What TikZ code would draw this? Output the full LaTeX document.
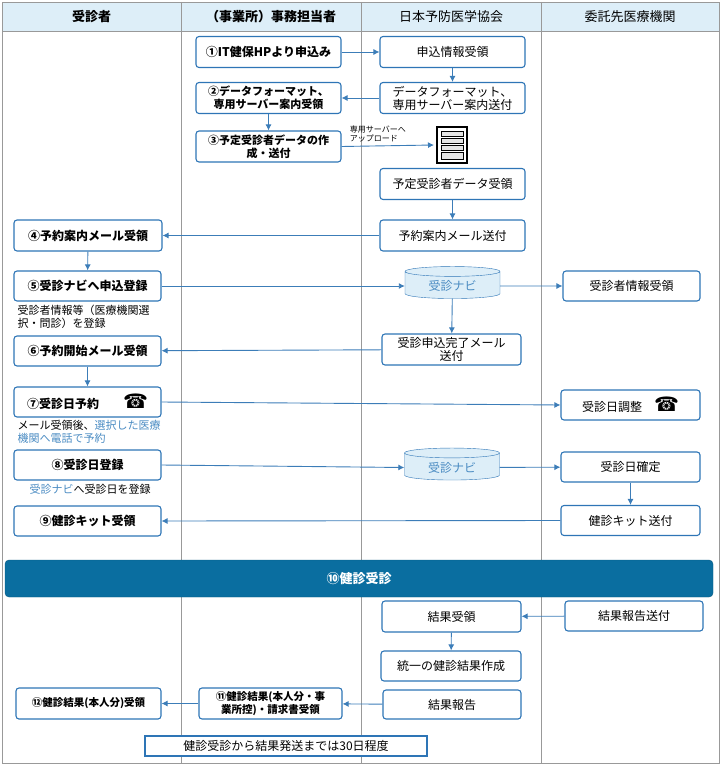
\documentclass[tikz,border=0pt]{standalone}
\usepackage{fontspec}
\setmainfont{Noto Sans CJK JP}
\newfontfamily\symfont{DejaVu Sans}
\usetikzlibrary{shapes.geometric,arrows.meta}
\definecolor{boxblue}{HTML}{2E75B6}
\definecolor{linkblue}{HTML}{3C7DB8}
\definecolor{headfill}{HTML}{DDEEF8}
\definecolor{bandblue}{HTML}{0A6EA0}
\definecolor{navtext}{HTML}{4A8BC2}
\tikzset{
  stage/.style={draw=boxblue, line width=1.1pt, rounded corners=3pt, fill=white,
    minimum height=31pt, align=center, font=\fontsize{12}{13}\selectfont\bfseries},
  task/.style={stage, font=\fontsize{12}{14}\selectfont},
  navi/.style={cylinder, shape border rotate=90, aspect=0.18, draw=boxblue, fill=headfill,
    minimum width=95pt, minimum height=32pt, text=navtext, font=\fontsize{12}{12}\selectfont},
  flow/.style={-{Latex[length=6pt,width=6pt]}, linkblue, line width=0.9pt},
  lane/.style={gray!80, line width=0.8pt},
  memo/.style={anchor=north west, align=left, font=\fontsize{11}{13}\selectfont}
}
\newcommand{\phone}{{\symfont\fontsize{20}{18}\selectfont ☎}}
\begin{document}
\begin{tikzpicture}[x=1pt, y=-1pt]
  \useasboundingbox (0,0) rectangle (721,765);
  % lanes
  \fill[headfill] (2,2) rectangle (719,31);
  \foreach \x in {181,361,541} {
    \draw[lane] (\x,2) -- (\x,763);
  }
  \draw[lane] (2,2) rectangle (719,763);
  \draw[lane] (2,31) -- (719,31);
  \node[font=\fontsize{13}{13}\selectfont\bfseries] at (91.5,17) {受診者};
  \node[font=\fontsize{13}{13}\selectfont\bfseries] at (271,17) {（事業所）事務担当者};
  \node[font=\fontsize{13}{13}\selectfont] at (451,17) {日本予防医学協会};
  \node[font=\fontsize{13}{13}\selectfont] at (630,17) {委託先医療機関};

  % steps
  \node[stage, minimum width=145pt] (n1) at (268.5,52) {①IT健保HPより申込み};
  \node[task, minimum width=145pt] (r1) at (452.5,52) {申込情報受領};
  \node[stage, minimum width=145pt, font=\fontsize{11}{13}\selectfont\bfseries] (n2) at (268.5,98) {②データフォーマット、\\専用サーバー案内受領};
  \node[task, minimum width=145pt, font=\fontsize{12}{13}\selectfont] (r2) at (452.5,98) {データフォーマット、\\専用サーバー案内送付};
  \node[stage, minimum width=145pt, font=\fontsize{11}{13}\selectfont\bfseries] (n3) at (268.5,146.5) {③予定受診者データの作\\成・送付\hspace{5.5em}};
  % server
  \begin{scope}[shift={(437,127)}]
    \draw[fill=white, line width=1.6pt] (0,0) rectangle (30,36);
    \foreach \y in {4,11,18} {
      \draw[fill=gray!20, line width=1pt] (4,\y) rectangle (26,\y+5);
    }
    \draw[fill=gray!20, line width=1pt] (4,25) rectangle (26,32);
  \end{scope}
  \coordinate (srv) at (434,145);
  \node[task, minimum width=145pt] (r3) at (452.5,184) {予定受診者データ受領};
  \node[task, minimum width=145pt] (r4) at (452.5,235.5) {予約案内メール送付};
  \node[stage, minimum width=148pt] (n4) at (88,235.5) {④予約案内メール受領};
  \node[stage, minimum width=147pt, minimum height=30pt] (n5) at (87.5,286) {⑤受診ナビへ申込登録};
  \node[navi] (nav1) at (452.5,286) {受診ナビ};
  \node[task, minimum width=137pt, minimum height=30pt] (c5) at (631.5,286) {受診者情報受領};
  \node[memo] at (14,302) {受診者情報等（医療機関選\\択・問診）を登録};
  \node[task, minimum width=139pt, font=\fontsize{12}{13}\selectfont] (r6) at (451.5,349.5) {受診申込完了メール\\送付};
  \node[stage, minimum width=147pt, minimum height=30pt] (n6) at (87.5,351) {⑥予約開始メール受領};
  \node[stage, minimum width=147pt, minimum height=30pt] (n7) at (87.5,402) {⑦受診日予約\hspace{2em}\phone};
  \node[task, minimum width=139pt, minimum height=30pt] (c7) at (630.5,405) {受診日調整\hspace{1em}\phone};
  \node[memo] at (14,417) {メール受領後、\textcolor{navtext}{選択した医療}\\\textcolor{navtext}{機関へ電話で予約}};
  \node[stage, minimum width=147pt, minimum height=30pt] (n8) at (87.5,465) {⑧受診日登録};
  \node[navi] (nav2) at (452,467.5) {受診ナビ};
  \node[task, minimum width=139pt, minimum height=30pt] (c8) at (630.5,467) {受診日確定};
  \node[memo] at (26,481) {\textcolor{navtext}{受診ナビ}へ受診日を登録};
  \node[stage, minimum width=147pt, minimum height=30pt] (n9) at (87.5,521) {⑨健診キット受領};
  \node[task, minimum width=139pt, minimum height=30pt] (c9) at (630.5,520.5) {健診キット送付};
  \node[fill=bandblue, draw=bandblue!80!black, rounded corners=4pt, minimum width=708pt,
    minimum height=37pt, text=white, font=\fontsize{13}{13}\selectfont\bfseries] (n10) at (359,578.5) {⑩健診受診};
  \node[task, minimum width=139pt] (r10) at (451.5,616.5) {結果受領};
  \node[task, minimum width=138pt, minimum height=30pt] (c10) at (634,616) {結果報告送付};
  \node[task, minimum width=140pt, minimum height=30pt] (r11) at (451,666) {統一の健診結果作成};
  \node[task, minimum width=138pt, minimum height=29pt] (r12) at (452,704.5) {結果報告};
  \node[stage, minimum width=143pt, font=\fontsize{10.5}{13}\selectfont\bfseries] (n11) at (270.5,703.5) {⑪健診結果(本人分・事\\業所控)・請求書受領};
  \node[stage, minimum width=145pt, font=\fontsize{10.5}{12}\selectfont\bfseries] (n12) at (88.5,703.5) {⑫健診結果(本人分)受領};
  \node[draw=boxblue, line width=1.1pt, fill=white, minimum width=282pt, minimum height=20pt,
    font=\fontsize{12}{12}\selectfont] (span) at (286,746) {健診受診から結果発送までは30日程度};

  % connectors
  \draw[flow] (n1) -- (r1);
  \draw[flow] (r1) -- (r2);
  \draw[flow] (r2) -- (n2);
  \draw[flow] (n2) -- (n3);
  \draw[flow] (n3.east) -- node[pos=0.05, align=left, text=black, font=\fontsize{8}{9}\selectfont, anchor=south west, yshift=1pt] {専用サーバーへ\\アップロード} (srv);
  \draw[flow] (r3) -- (r4);
  \draw[flow] (r4) -- (n4);
  \draw[flow] (n4) -- (n5);
  \draw[flow] (n5) -- (nav1);
  \draw[flow] (nav1) -- (c5);
  \draw[flow] (nav1) -- (r6);
  \draw[flow] (r6) -- (n6);
  \draw[flow] (n6) -- (n7);
  \draw[flow] (n7.east) -- (c7.west);
  \draw[flow] (n8.east) -- (nav2.west);
  \draw[flow] (nav2) -- (c8);
  \draw[flow] (c8) -- (c9);
  \draw[flow] (c9.west) -- (n9.east);
  \draw[flow] (c10) -- (r10);
  \draw[flow] (r10) -- (r11);
  \draw[flow] (r12) -- (n11);
  \draw[flow] (n11) -- (n12);
\end{tikzpicture}
\end{document}
